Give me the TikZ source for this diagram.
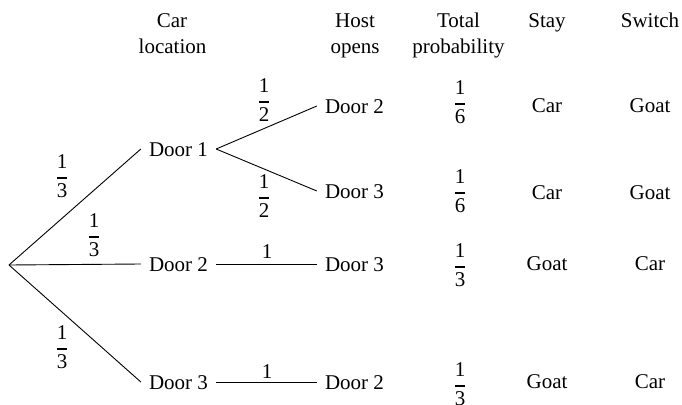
\documentclass[tikz,border=0pt]{standalone}
\usepackage{amsmath}
\usepackage{fontspec}
\IfFontExistsTF{LiberationSerif-Regular.ttf}
  {\setmainfont{LiberationSerif}[Extension=.ttf, UprightFont=*-Regular, BoldFont=*-Bold, ItalicFont=*-Italic, BoldItalicFont=*-BoldItalic]}
  {\setmainfont{Liberation Serif}}
\newcommand{\fr}[2]{$\genfrac{}{}{1.4pt}{0}{\text{#1}}{\text{#2}}$}
\begin{document}
\begin{tikzpicture}[x=1pt,y=-1pt,
  every node/.style={font=\fontsize{21}{25}\selectfont},
  door/.style={inner xsep=8pt, inner ysep=0pt, text height=14pt, text depth=0pt},
  lbl/.style={inner sep=0pt, anchor=base},
  branch/.style={line width=0.9pt}]
\useasboundingbox (0,0) rectangle (682,404);
% headers
\node[lbl] (hcar) at (172,28) {Car};
\node[lbl] (hloc) at (172.5,53) {location};
\node[lbl] (hhost) at (355,28) {Host};
\node[lbl] (hopens) at (355,53) {opens};
\node[lbl] (htot) at (458.5,28) {Total};
\node[lbl] (hprob) at (458.5,53) {probability};
\node[lbl] (hstay) at (547,28) {Stay};
\node[lbl] (hswitch) at (650,28) {Switch};
% tree nodes
\coordinate (root) at (9,265);
\node[door] (d1) at (178.5,149) {Door 1};
\node[door] (d2) at (178.5,264) {Door 2};
\node[door] (d3) at (178.5,382) {Door 3};
\node[door] (h1) at (354.5,106) {Door 2};
\node[door] (h2) at (354.5,191) {Door 3};
\node[door] (h3) at (354.5,264) {Door 3};
\node[door] (h4) at (354.5,382) {Door 2};
% connectors
\draw[branch] (root) -- (d1.west);
\draw[branch] (root) -- (d2.west);
\draw[branch] (root) -- (d3.west);
\draw[branch] (d1.east) -- (h1.west);
\draw[branch] (d1.east) -- (h2.west);
\draw[branch] (d2.east) -- (h3.west);
\draw[branch] (d3.east) -- (h4.west);
% edge labels
\node[lbl] (p1) at (62,183) {\fr{1}{3}};
\node[lbl] (p2) at (94,242) {\fr{1}{3}};
\node[lbl] (p3) at (62,354) {\fr{1}{3}};
\node[lbl] (q1) at (264,107) {\fr{1}{2}};
\node[lbl] (q2) at (264,203) {\fr{1}{2}};
\node[lbl] (q3) at (267,258) {1};
\node[lbl] (q4) at (267,378) {1};
% totals
\node[lbl] (t1) at (460,109) {\fr{1}{6}};
\node[lbl] (t2) at (460,198) {\fr{1}{6}};
\node[lbl] (t3) at (460,272) {\fr{1}{3}};
\node[lbl] (t4) at (460,391) {\fr{1}{3}};
% stay / switch
\node[lbl] (s1) at (547,112) {Car};
\node[lbl] (s2) at (547,199) {Car};
\node[lbl] (s3) at (547,270) {Goat};
\node[lbl] (s4) at (547,388) {Goat};
\node[lbl] (w1) at (650,112) {Goat};
\node[lbl] (w2) at (650,199) {Goat};
\node[lbl] (w3) at (650,270) {Car};
\node[lbl] (w4) at (650,388) {Car};
\end{tikzpicture}
\end{document}
